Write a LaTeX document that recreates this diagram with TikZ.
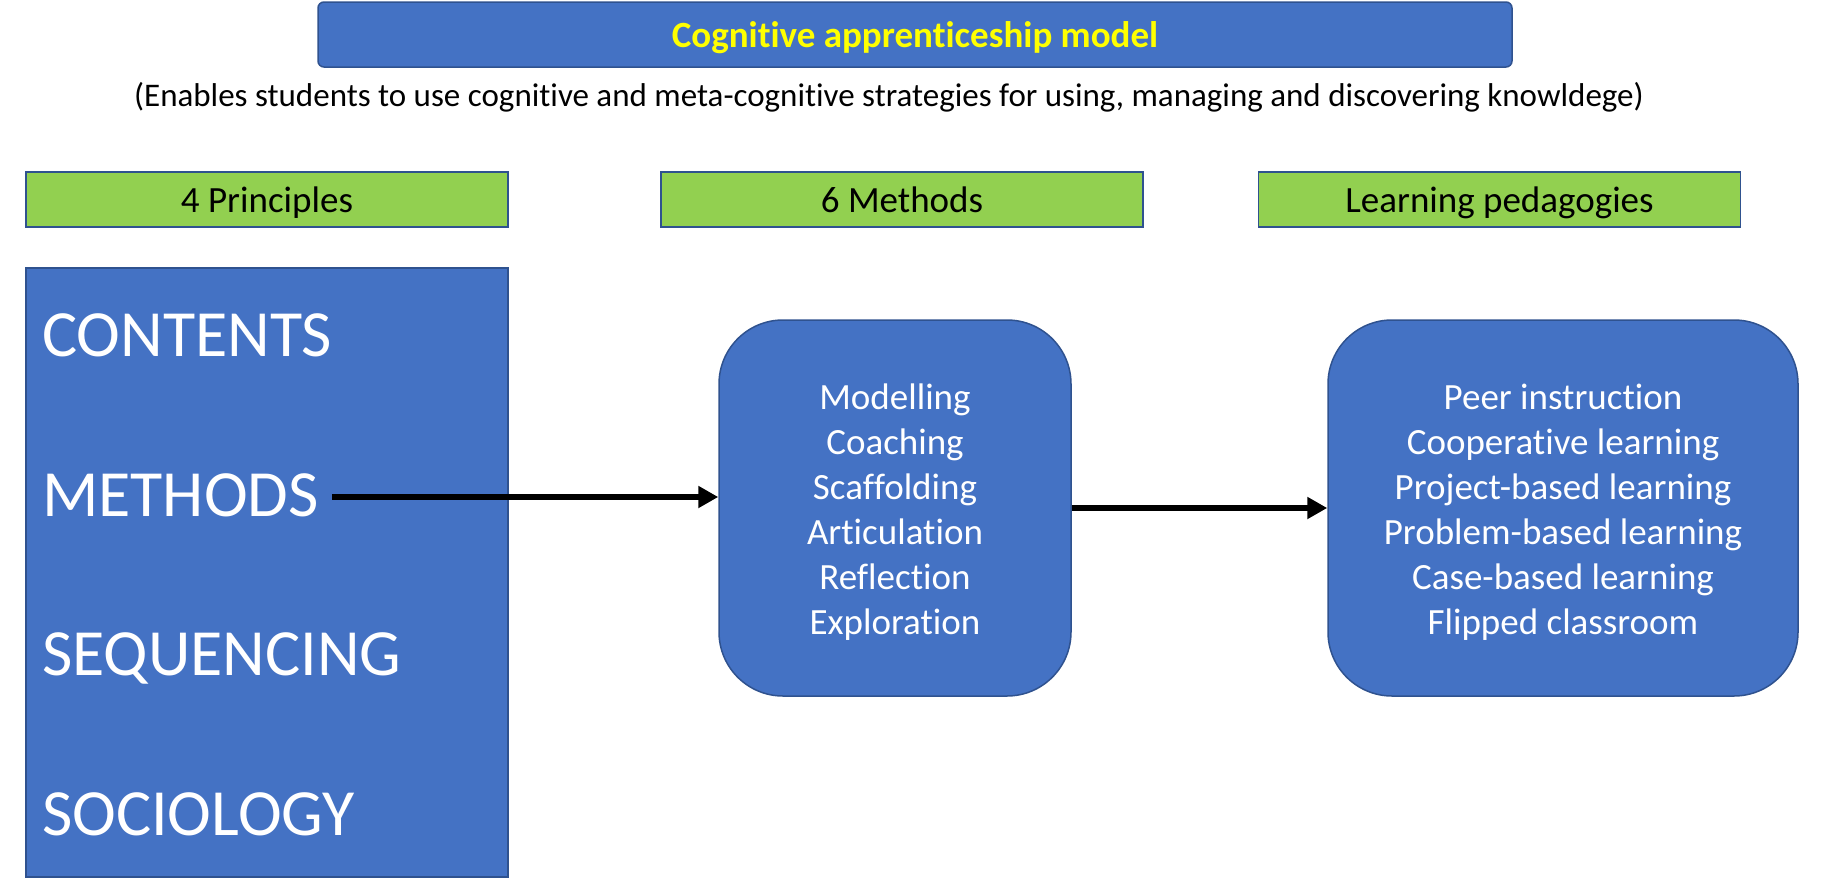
\documentclass[tikz,border=0pt]{standalone}
\usepackage{fontspec}
\setmainfont{Carlito}[Ligatures=NoCommon]
\usetikzlibrary{arrows.meta}
\definecolor{boxblue}{HTML}{4472C4}
\definecolor{edgeblue}{HTML}{2F528F}
\definecolor{labgreen}{HTML}{92D050}
\definecolor{titleyellow}{HTML}{FFFF00}
\begin{document}
\begin{tikzpicture}[x=1pt,y=-1pt,
  bluebox/.style={draw=edgeblue,fill=boxblue,line width=1.5pt,inner sep=0pt},
  greenlab/.style={draw=edgeblue,fill=labgreen,line width=1.5pt,inner sep=0pt,minimum width=482pt,minimum height=55pt,text height=25pt,text depth=0pt,font=\fontsize{37}{44}\selectfont},
  roundbox/.style={bluebox,rounded corners=64pt,minimum height=376pt},
  listtext/.style={text=white,align=center,inner sep=0pt,font=\fontsize{37}{45}\selectfont},
  principle/.style={anchor=base west,text=white,inner sep=0pt,font=\fontsize{66}{79}\selectfont},
  flow/.style={line width=6.5pt,-{Triangle[length=20pt,width=21pt]}}]
\useasboundingbox (0,0) rectangle (1832,894);
% title
\node[bluebox,rounded corners=6pt,minimum width=1194pt,minimum height=65pt,text height=25pt,text depth=0pt,text=titleyellow,font=\fontsize{37}{44}\selectfont\bfseries] (title) at (915,34.5) {Cognitive apprenticeship model};
\node[anchor=base,inner sep=0pt,font=\fontsize{33}{40}\selectfont] (sub) at (889,106) {(Enables students to use cognitive and meta-cognitive strategies for using, managing and discovering knowldege)};
% green labels
\node[greenlab] (lp) at (267,199.5) {4 Principles};
\node[greenlab] (lm) at (902,199.5) {6 Methods};
\node[greenlab] (ll) at (1499.5,199.5) {Learning pedagogies};
% left box
\node[bluebox,minimum width=482pt,minimum height=609pt] (left) at (267,572.5) {};
\node[principle] (p1) at (42,356) {CONTENTS};
\node[principle] (p2) at (42,516) {METHODS};
\node[principle] (p3) at (42,675) {SEQUENCING};
\node[principle] (p4) at (42,835) {SOCIOLOGY};
% rounded boxes
\node[roundbox,minimum width=352pt] (meth) at (895,508) {};
\node[listtext] (methtext) at ([yshift=-4pt]meth.center) {Modelling\\Coaching\\Scaffolding\\Articulation\\Reflection\\Exploration};
\node[roundbox,minimum width=470pt] (ped) at (1563,508) {};
\node[listtext] (pedtext) at ([yshift=-4pt]ped.center) {Peer instruction\\Cooperative learning\\Project-based learning\\Problem-based learning\\Case-based learning\\Flipped classroom};
% arrows
\coordinate (a1) at ([xshift=13pt,yshift=19pt]p2.base east);
\draw[flow] (a1) -- (a1 -| meth.west);
\draw[flow] (meth.east) -- (ped.west);
\end{tikzpicture}
\end{document}
